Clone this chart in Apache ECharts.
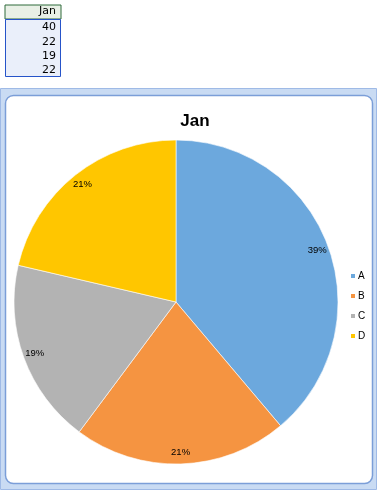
<!DOCTYPE html>
<html><head><meta charset="utf-8">
<script src="https://cdn.jsdelivr.net/npm/echarts@6/dist/echarts.min.js"></script>
<style>html,body{margin:0;padding:0;background:#fff;}#c{width:379px;height:492px;}</style>
</head><body><div id="c"></div>
<script>
const title = 'Jan';
const categories = ['A', 'B', 'C', 'D'];
const values = [40, 22, 19, 22];
const colors = ['#6CA8DD', '#F59441', '#B3B3B3', '#FFC600'];

const chart = echarts.init(document.getElementById('c'), null, {renderer: 'canvas'});
const data = categories.map((n, i) => ({name: n, value: values[i], itemStyle: {color: colors[i]}}));
const cellTexts = values.map((v, i) => ({
  type: 'text', right: 379 - 56, top: 22 + i * 14.3,
  style: {text: String(v), font: '11px "DejaVu Sans", Arial, sans-serif', fill: '#000', textAlign: 'right'}
}));
const center = [176, 302];
const R = 162;
chart.setOption({
  animation: false,
  title: {text: title, left: 190, top: 108, textAlign: 'center',
    textStyle: {fontFamily: '"Liberation Sans", Arial, sans-serif', fontWeight: 'bold', fontSize: 17, color: '#000'}},
  legend: {orient: 'vertical', left: 344, top: 266, itemWidth: 6, itemHeight: 6, itemGap: 10,
    icon: 'rect', data: categories,
    textStyle: {fontFamily: '"Liberation Sans", Arial, sans-serif', fontSize: 10, color: '#000', padding: [0,0,0,-3]}},
  graphic: [
    // chart frame
    {type: 'rect', shape: {x: 0.5, y: 88.5, width: 376, height: 401}, style: {fill: '#C9DBF3', stroke: '#9FBAE6', lineWidth: 1}, z: -10},
    {type: 'rect', shape: {x: 5.5, y: 95.5, width: 367, height: 388, r: 8}, style: {fill: '#fff', stroke: '#7B9ED8', lineWidth: 1.5}, z: -9},
    // spreadsheet cells
    {type: 'rect', shape: {x: 5, y: 5, width: 56, height: 14}, style: {fill: '#E9F0E6', stroke: '#2F6B3A', lineWidth: 1}, z: -5},
    {type: 'rect', shape: {x: 5.5, y: 19.5, width: 55, height: 57}, style: {fill: '#EAEFFA', stroke: '#2654C9', lineWidth: 1}, z: -5},
    {type: 'text', right: 379 - 56, top: 6, style: {text: title, font: '11px "DejaVu Sans", Arial, sans-serif', fill: '#000', textAlign: 'right'}},
    ...cellTexts
  ],
  series: [
    {type: 'pie', center: center, radius: R, startAngle: 90, clockwise: true,
      data: data, label: {show: false}, labelLine: {show: false},
      itemStyle: {borderColor: '#fff', borderWidth: 0.6}, emphasis: {disabled: true}},
    {type: 'pie', center: center, radius: [R * 0.82, R], startAngle: 90, clockwise: true,
      data: data.map(d => ({name: d.name, value: d.value, itemStyle: {color: 'rgba(0,0,0,0)'}})),
      silent: true, emphasis: {disabled: true},
      label: {show: true, position: 'inside', formatter: '{d}%', color: '#000', fontSize: 9.5,
        fontFamily: '"Liberation Sans", Arial, sans-serif'},
      percentPrecision: 0, labelLine: {show: false}}
  ]
});
</script></body></html>
